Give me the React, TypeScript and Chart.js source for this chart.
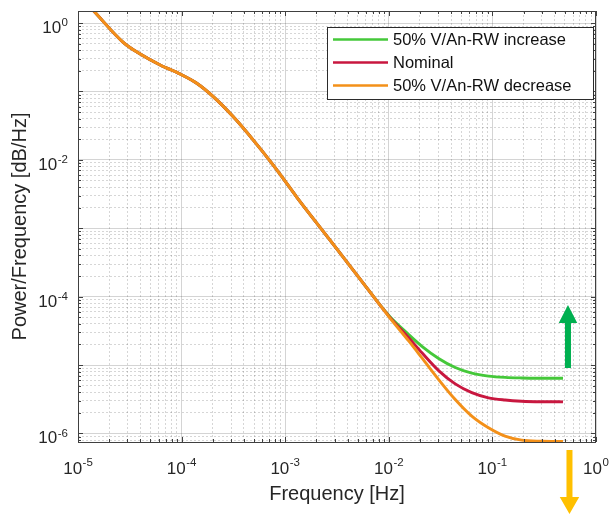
import React, { useEffect, useRef } from 'react';
import { Chart, registerables } from 'chart.js';

Chart.register(...registerables);

// ---- data ----
const FREQ = [
  1e-5, 1.39e-5, 2.73e-5, 4.14e-5, 6.21e-5, 9.68e-5, 1.4e-4, 2.02e-4, 3.14e-4, 4.9e-4,
  7.63e-4, 9.77e-4, 1.28e-3, 2.65e-3, 5.15e-3,
  0.01, 0.01556, 0.02089, 0.03026, 0.04378, 0.06324, 0.09163, 0.1325, 0.1914, 0.3, 0.48,
];
const COMMON_PSD = [
  2.6, 1.55, 0.523, 0.341, 0.244, 0.18, 0.132, 0.084, 0.0429, 0.0196,
  0.00845, 0.0051, 0.00291, 0.0007, 0.00019,
];
const INCREASE_TAIL = [5.3e-5, 2.79e-5, 1.88e-5, 1.25e-5, 9.2e-6, 7.6e-6, 6.9e-6, 6.6e-6, 6.48e-6, 6.42e-6, 6.4e-6];
const NOMINAL_TAIL = [5.2e-5, 2.5e-5, 1.51e-5, 8.3e-6, 5.3e-6, 3.95e-6, 3.32e-6, 3.08e-6, 2.96e-6, 2.91e-6, 2.9e-6];
const DECREASE_TAIL = [5.12e-5, 2.25e-5, 1.27e-5, 6.14e-6, 3.13e-6, 1.79e-6, 1.21e-6, 9.14e-7, 7.98e-7, 7.7e-7, 7.64e-7];

const SERIES_LABELS = ['50% V/An-RW increase', 'Nominal', '50% V/An-RW decrease'];
const SERIES_COLORS = ['#45C83A', '#C8173F', '#F39019'];

const X_LABEL_EXPONENTS = [-5, -4, -3, -2, -1, 0];
const Y_LABEL_EXPONENTS = [0, -2, -4, -6];
const X_MIN = 1e-5;
const X_MAX = 1;
const Y_MIN = 7.5e-7;
const Y_MAX = 1.5;

const X_TITLE = 'Frequency [Hz]';
const Y_TITLE = 'Power/Frequency [dB/Hz]';

const AXIS_COLOR = '#404040';
const TEXT_COLOR = '#262626';
const FONT = '"Liberation Sans", Arial, Helvetica, sans-serif';

const toPoints = (ys: number[]) => ys.map((y, i) => ({ x: FREQ[i], y }));

const isDecade = (v: number) => {
  const l = Math.log10(v);
  return Math.abs(l - Math.round(l)) < 1e-6;
};

const logTicks = (min: number, max: number) => {
  const out: { value: number }[] = [];
  for (let e = Math.floor(Math.log10(min)); e <= Math.ceil(Math.log10(max)); e++) {
    for (let m = 1; m <= 9; m++) {
      const v = parseFloat((m * Math.pow(10, e)).toPrecision(6));
      if (v >= min * 0.9999 && v <= max * 1.0001) out.push({ value: v });
    }
  }
  return out;
};

function drawPow(ctx: CanvasRenderingContext2D, exp: number, x: number, baseline: number, align: 'center' | 'right', supRaise: number) {
  const bigFont = `17px ${FONT}`;
  const supFont = `11.5px ${FONT}`;
  ctx.font = bigFont;
  const w1 = ctx.measureText('10').width;
  ctx.font = supFont;
  const supText = String(exp);
  const w2 = ctx.measureText(supText).width;
  const total = w1 + w2 + 0.5;
  const start = align === 'center' ? x - total / 2 : x - total;
  ctx.textAlign = 'left';
  ctx.textBaseline = 'alphabetic';
  ctx.fillStyle = TEXT_COLOR;
  ctx.font = bigFont;
  ctx.fillText('10', start, baseline);
  ctx.font = supFont;
  ctx.fillText(supText, start + w1 + 0.5, baseline - supRaise);
}

function drawArrow(ctx: CanvasRenderingContext2D, x: number, yTail: number, yTip: number, shaftW: number, headW: number, headL: number, color: string) {
  const dir = yTip < yTail ? -1 : 1;
  const yBase = yTip - dir * headL;
  ctx.fillStyle = color;
  ctx.beginPath();
  ctx.moveTo(x - shaftW / 2, yTail);
  ctx.lineTo(x - shaftW / 2, yBase);
  ctx.lineTo(x - headW / 2, yBase);
  ctx.lineTo(x, yTip);
  ctx.lineTo(x + headW / 2, yBase);
  ctx.lineTo(x + shaftW / 2, yBase);
  ctx.lineTo(x + shaftW / 2, yTail);
  ctx.closePath();
  ctx.fill();
}

const decorPlugin = {
  id: 'decor',
  afterDraw(chart: any) {
    const { ctx, chartArea: a, scales } = chart;
    const xs = scales.x;
    const ys = scales.y;
    ctx.save();

    // inward tick marks on all four sides
    ctx.strokeStyle = AXIS_COLOR;
    ctx.lineWidth = 1;
    ctx.beginPath();
    xs.ticks.forEach((t: any) => {
      const px = Math.round(xs.getPixelForValue(t.value)) + 0.5;
      const len = isDecade(t.value) ? 5 : 3;
      ctx.moveTo(px, a.bottom);
      ctx.lineTo(px, a.bottom - len);
      ctx.moveTo(px, a.top);
      ctx.lineTo(px, a.top + len);
    });
    ys.ticks.forEach((t: any) => {
      const py = Math.round(ys.getPixelForValue(t.value)) + 0.5;
      const len = isDecade(t.value) ? 5 : 3;
      ctx.moveTo(a.left, py);
      ctx.lineTo(a.left + len, py);
      ctx.moveTo(a.right, py);
      ctx.lineTo(a.right - len, py);
    });
    ctx.stroke();

    // axes box
    ctx.strokeRect(Math.round(a.left) + 0.5, Math.round(a.top) + 0.5, Math.round(a.right - a.left) - 1, Math.round(a.bottom - a.top));

    // tick labels with superscript exponents
    X_LABEL_EXPONENTS.forEach((e) => {
      const px = xs.getPixelForValue(Math.pow(10, e));
      drawPow(ctx, e, px, a.bottom + 32, 'center', 8);
    });
    Y_LABEL_EXPONENTS.forEach((e) => {
      const py = ys.getPixelForValue(Math.pow(10, e));
      drawPow(ctx, e, a.left - 10, py + 10, 'right', 6.8);
    });

    // legend
    const L = { left: a.left + 249, top: a.top + 16, right: a.right - 3, bottom: a.top + 88 };
    ctx.fillStyle = '#ffffff';
    ctx.fillRect(L.left, L.top, L.right - L.left, L.bottom - L.top);
    ctx.strokeStyle = '#2b2b2b';
    ctx.lineWidth = 1;
    ctx.strokeRect(Math.round(L.left) + 0.5, Math.round(L.top) + 0.5, Math.round(L.right - L.left), Math.round(L.bottom - L.top));
    chart.data.datasets.forEach((ds: any, i: number) => {
      const y = L.top + 12.5 + i * 23;
      ctx.strokeStyle = ds.borderColor;
      ctx.lineWidth = 2.6;
      ctx.beginPath();
      ctx.moveTo(L.left + 6, y);
      ctx.lineTo(L.left + 61, y);
      ctx.stroke();
      ctx.fillStyle = '#111';
      ctx.font = `16.5px ${FONT}`;
      ctx.textAlign = 'left';
      ctx.textBaseline = 'middle';
      ctx.fillText(ds.label, L.left + 66, y + 1);
    });

    // annotation arrows
    const xEnd = xs.getPixelForValue(FREQ[FREQ.length - 1]);
    drawArrow(ctx, xEnd + 5, a.top + 357, a.top + 294, 6, 18.5, 18, '#00B050');
    drawArrow(ctx, xEnd + 6.5, a.bottom + 8, a.bottom + 72, 6, 19.5, 17, '#FFC000');

    ctx.restore();
  },
};

export default function App() {
  const ref = useRef<HTMLCanvasElement | null>(null);

  useEffect(() => {
    if (!ref.current) return;
    const tails = [INCREASE_TAIL, NOMINAL_TAIL, DECREASE_TAIL];
    const chart = new Chart(ref.current, {
      type: 'line',
      data: {
        datasets: tails.map((tail, i) => ({
          label: SERIES_LABELS[i],
          data: toPoints([...COMMON_PSD, ...tail]),
          borderColor: SERIES_COLORS[i],
          backgroundColor: SERIES_COLORS[i],
          borderWidth: 2.9,
          pointRadius: 0,
          fill: false,
          cubicInterpolationMode: 'monotone',
          order: 3 - i,
        })),
      },
      options: {
        responsive: false,
        animation: false,
        layout: { padding: { left: 0, top: 11, right: 17, bottom: 0 } },
        plugins: { legend: { display: false }, tooltip: { enabled: false } },
        scales: {
          x: {
            type: 'logarithmic',
            min: X_MIN,
            max: X_MAX,
            afterBuildTicks: (s: any) => { s.ticks = logTicks(X_MIN, X_MAX); },
            afterFit: (s: any) => { s.height = 73; },
            ticks: { display: false },
            grid: {
              drawTicks: false,
              lineWidth: 1,
              color: (c: any) => (c.tick && isDecade(c.tick.value) ? 'rgba(0,0,0,0.17)' : 'rgba(0,0,0,0.16)'),
            },
            border: {
              display: false,
              dash: (c: any) => (c.tick && isDecade(c.tick.value) ? [] : [2, 2]),
            },
            title: {
              display: true,
              text: X_TITLE,
              color: TEXT_COLOR,
              font: { family: FONT, size: 20 },
              padding: { top: 0, bottom: 9 },
            },
          },
          y: {
            type: 'logarithmic',
            min: Y_MIN,
            max: Y_MAX,
            afterBuildTicks: (s: any) => { s.ticks = logTicks(Y_MIN, Y_MAX); },
            afterFit: (s: any) => { s.width = 78; },
            ticks: { display: false },
            grid: {
              drawTicks: false,
              lineWidth: 1,
              color: (c: any) => (c.tick && isDecade(c.tick.value) ? 'rgba(0,0,0,0.17)' : 'rgba(0,0,0,0.16)'),
            },
            border: {
              display: false,
              dash: (c: any) => (c.tick && isDecade(c.tick.value) ? [] : [2, 2]),
            },
            title: {
              display: true,
              text: Y_TITLE,
              color: TEXT_COLOR,
              font: { family: FONT, size: 20 },
              padding: { top: 8, bottom: 0 },
            },
          },
        },
      } as any,
      plugins: [decorPlugin],
    });
    return () => chart.destroy();
  }, []);

  return (
    <div style={{ position: 'absolute', left: 0, top: 0, width: 613, height: 515, background: '#fff' }}>
      <canvas ref={ref} width={613} height={515} style={{ display: 'block' }} />
    </div>
  );
}
